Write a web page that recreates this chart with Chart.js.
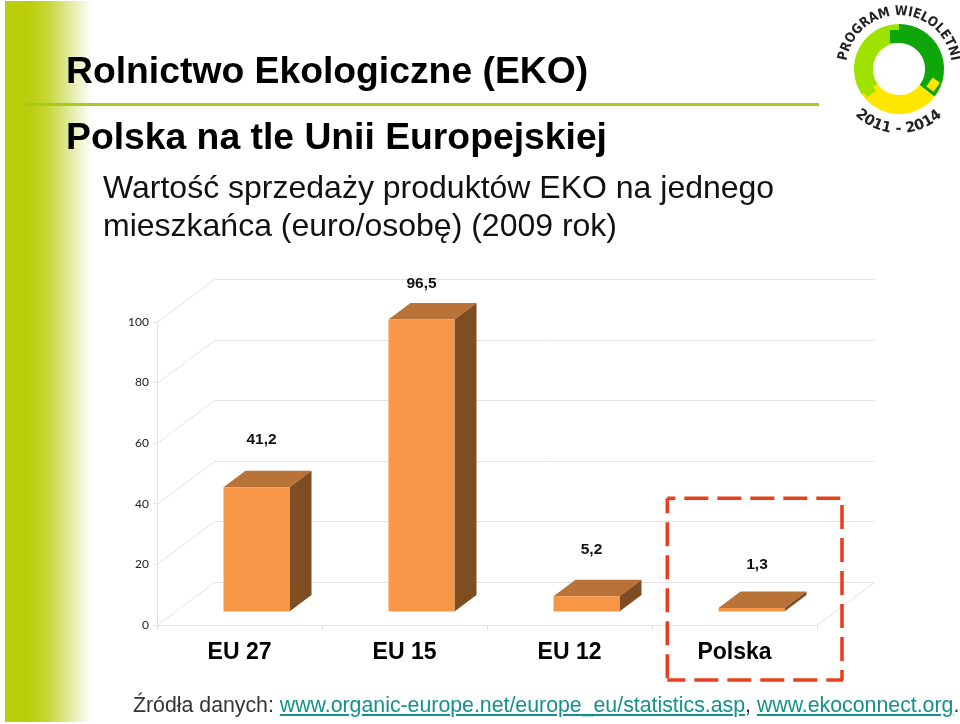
<!DOCTYPE html>
<html lang="pl">
<head>
<meta charset="utf-8">
<style>
html,body{margin:0;padding:0;background:#fff;width:960px;height:724px;overflow:hidden}
body{position:relative;font-family:"Liberation Sans",Arial,sans-serif}
#strip{position:absolute;left:5px;top:1px;width:87px;height:721px;background:linear-gradient(90deg,#b9cd09 0%,#b9cd09 26%,#c4d52c 46%,#d6e174 64%,#ebf1bf 82%,#ffffff 100%)}
#rule{position:absolute;left:24px;top:102.5px;width:795px;height:3px;background:#a4cc1e}
canvas{position:absolute;left:0;top:0}
.t{position:absolute;white-space:nowrap;line-height:1}
#t1{left:66px;top:52px;font-size:37.3px;font-weight:bold;color:#000}
#t2{left:66px;top:118px;font-size:37.3px;font-weight:bold;color:#000;letter-spacing:0}
#t3{left:103px;top:171px;font-size:32px;color:#111}
#t4{left:103px;top:209px;font-size:32px;color:#111}
#src{left:133px;top:695px;font-size:21.3px;color:#333}
#src a{color:#15908a;text-decoration:underline}
svg{position:absolute;left:0;top:0}
</style>
</head>
<body>
<div id="strip"></div>
<div id="rule"></div>
<canvas id="c" width="960" height="724"></canvas>
<div class="t" id="t1">Rolnictwo Ekologiczne (EKO)</div>
<div class="t" id="t2">Polska na tle Unii Europejskiej</div>
<div class="t" id="t3">Wartość sprzedaży produktów EKO na jednego</div>
<div class="t" id="t4">mieszkańca (euro/osobę) (2009 rok)</div>
<div class="t" id="src">Źródła danych: <a>www.organic-europe.net/europe_eu/statistics.asp</a>, <a>www.ekoconnect.org</a>.</div>
<svg width="960" height="724" viewBox="0 0 960 724">
  <g fill="none" stroke="#e8401c" stroke-width="3.6">
    <path d="M667.3 498.3H842" stroke-dasharray="24 9" stroke-dashoffset="16"/>
    <path d="M667.3 498.3V680" stroke-dasharray="24 9" stroke-dashoffset="9"/>
    <path d="M667.3 680H843" stroke-dasharray="24 9" stroke-dashoffset="6"/>
    <path d="M842 505V680" stroke-dasharray="24 9"/>
  </g>
  <g fill="none" stroke-width="19">
    <path d="M899 33.5A35.5 35.5 0 0 1 927 90.9" stroke="#0fa60a"/>
    <path d="M927 90.9A35.5 35.5 0 0 1 869.9 89.4" stroke="#ffe600"/>
    <path d="M869.9 89.4A35.5 35.5 0 0 1 899 33.5" stroke="#9fe200"/>
  </g>
  <rect x="890" y="30" width="10" height="13" fill="#0fa60a"/>
  <rect x="929" y="79" width="9" height="11" fill="#ffe600" transform="rotate(35 933 84)"/>
  <rect x="864" y="87" width="11" height="8" fill="#9fe200" transform="rotate(-35 869 91)"/>
  <defs>
    <path id="arcTop" d="M846.5 60.9A53 53 0 0 1 951.5 60.9"/>
    <path id="arcBot" d="M855.2 115A62 62 0 0 0 942.8 115"/>
  </defs>
  <text font-family="'DejaVu Sans',sans-serif" font-weight="bold" font-size="13.5" fill="#222"><textPath href="#arcTop" textLength="152" lengthAdjust="spacingAndGlyphs">PROGRAM WIELOLETNI</textPath></text>
  <text font-family="'DejaVu Sans',sans-serif" font-weight="bold" font-size="14.5" fill="#222"><textPath href="#arcBot" textLength="96" lengthAdjust="spacingAndGlyphs">2011 - 2014</textPath></text>
</svg>
<script src="https://cdn.jsdelivr.net/npm/chart.js@4"></script>
<script>
const categories = ["EU 27", "EU 15", "EU 12", "Polska"];
const values = [41.2, 96.5, 5.2, 1.3];
const valueLabels = ["41,2", "96,5", "5,2", "1,3"];
const yTicks = [0, 20, 40, 60, 80, 100];

const wallDX = 57.5, wallDY = -43;     // depth of the chart's box
const barDX = 17, barDY = -13;         // bars stand inside the box
const depthX = 22, depthY = -16.5;     // depth of each bar
const labelOffsets = [[5,-47],[0,-35.6],[5,-47],[5.5,-43]];
const lineColor = '#e2e2e2';

const box3d = {
  id: 'box3d',
  beforeDraw(chart) {
    const {ctx, chartArea: a, scales: {y}} = chart;
    ctx.save();
    ctx.lineWidth = 1;
    ctx.strokeStyle = lineColor;
    yTicks.forEach(v => {
      const py = Math.round(y.getPixelForValue(v)) + 0.5;
      ctx.beginPath();
      ctx.moveTo(a.left, py);
      ctx.lineTo(a.left + wallDX, py + wallDY);
      ctx.lineTo(a.right + wallDX, py + wallDY);
      ctx.stroke();
    });
    const p0 = Math.round(y.getPixelForValue(0)) + 0.5;
    ctx.beginPath();
    ctx.moveTo(a.right, p0);
    ctx.lineTo(a.right + wallDX, p0 + wallDY);
    ctx.stroke();
    ctx.restore();
  },
  beforeDatasetsDraw(chart) {
    const ctx = chart.ctx, bars = chart.getDatasetMeta(0).data;
    ctx.save();
    ctx.translate(barDX, barDY);
    bars.forEach(b => {
      const p = b.getProps(['x','y','base','width'], true);
      const l = p.x - p.width/2, r = p.x + p.width/2;
      ctx.fillStyle = '#b97238';
      ctx.beginPath();
      ctx.moveTo(l, p.y); ctx.lineTo(l+depthX, p.y+depthY);
      ctx.lineTo(r+depthX, p.y+depthY); ctx.lineTo(r, p.y);
      ctx.closePath(); ctx.fill();
      ctx.fillStyle = '#7e4d22';
      ctx.beginPath();
      ctx.moveTo(r, p.y); ctx.lineTo(r+depthX, p.y+depthY);
      ctx.lineTo(r+depthX, p.base+depthY); ctx.lineTo(r, p.base);
      ctx.closePath(); ctx.fill();
    });
  },
  afterDatasetsDraw(chart) {
    const ctx = chart.ctx, bars = chart.getDatasetMeta(0).data;
    ctx.restore();
    ctx.save();
    ctx.font = 'bold 15.5px "Liberation Sans", Arial, sans-serif';
    ctx.fillStyle = '#111';
    ctx.textAlign = 'center';
    ctx.textBaseline = 'middle';
    bars.forEach((b, i) => {
      const p = b.getProps(['x','y'], true);
      ctx.fillText(valueLabels[i], p.x + barDX + labelOffsets[i][0], p.y + barDY + labelOffsets[i][1]);
    });
    ctx.restore();
  }
};

new Chart(document.getElementById('c'), {
  type: 'bar',
  data: {
    labels: categories,
    datasets: [{
      data: values,
      backgroundColor: '#f79646',
      borderWidth: 0,
      barPercentage: 0.4,
      categoryPercentage: 1,
      clip: false
    }]
  },
  plugins: [box3d],
  options: {
    responsive: false,
    animation: false,
    events: [],
    layout: {padding: {top: 322, right: 143, left: 0, bottom: 0}},
    plugins: {legend: {display: false}, title: {display: false}, tooltip: {enabled: false}},
    scales: {
      x: {
        afterFit(s) { s.height = 99; },
        grid: {drawOnChartArea: false, drawTicks: true, tickLength: 5, tickColor: lineColor},
        border: {color: lineColor},
        ticks: {
          color: '#000', padding: 9, maxRotation: 0,
          font: {family: '"Liberation Sans", Arial, sans-serif', weight: 'bold', size: 23}
        }
      },
      y: {
        min: 0, max: 100,
        afterFit(s) { s.width = 157; },
        afterBuildTicks(s) { s.ticks = yTicks.map(v => ({value: v})); },
        grid: {drawOnChartArea: false, drawTicks: true, tickLength: 4, tickColor: lineColor},
        border: {color: lineColor},
        ticks: {
          color: '#222', padding: 4,
          font: {family: 'Lato, sans-serif', size: 12}
        }
      }
    }
  }
});
</script>
</body>
</html>
